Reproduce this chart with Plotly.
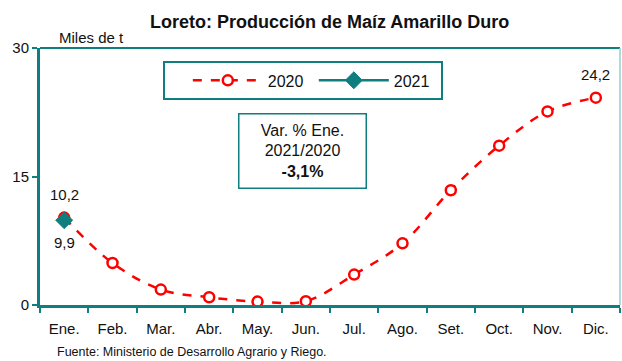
import plotly.graph_objects as go

# Monthly production, thousands of tonnes
months = ["Ene.", "Feb.", "Mar.", "Abr.", "May.", "Jun.", "Jul.", "Ago.", "Set.", "Oct.", "Nov.", "Dic."]
prod_2020 = [10.2, 4.9, 1.8, 0.9, 0.4, 0.45, 3.55, 7.2, 13.4, 18.6, 22.6, 24.2]
prod_2021 = [9.9]
y_ticks = [0, 15, 30]

TEAL = "#0e7f7e"
RED = "#ff0000"
FONT = "Liberation Sans, Arial"


def fmt(v):
    return f"{v:.1f}".replace(".", ",")


fig = go.Figure()
fig.add_trace(go.Scatter(
    x=months, y=prod_2020, name="2020", mode="lines+markers",
    line=dict(color=RED, width=2.5, dash="dash", shape="spline", smoothing=1.0),
    marker=dict(symbol="circle", size=10, color="white", line=dict(color=RED, width=2.5)),
))
fig.add_trace(go.Scatter(
    x=months[:len(prod_2021)], y=prod_2021, name="2021", mode="lines+markers",
    line=dict(color=TEAL, width=2.5),
    marker=dict(symbol="diamond", size=13, color=TEAL, line=dict(color=TEAL, width=1)),
))

# value labels
fig.add_annotation(x=months[0], y=prod_2020[0], text=fmt(prod_2020[0]), showarrow=False,
                   yshift=23, font=dict(size=15, color="#111"))
fig.add_annotation(x=months[0], y=prod_2021[0], text=fmt(prod_2021[0]), showarrow=False,
                   yshift=-22, font=dict(size=15, color="#111"))
fig.add_annotation(x=months[-1], y=prod_2020[-1], text=fmt(prod_2020[-1]), showarrow=False,
                   yshift=23, font=dict(size=15, color="#111"))

# variation box
var_pct = -3.1
fig.add_annotation(xref="paper", yref="paper", x=0.452, y=0.6, xanchor="center", yanchor="middle",
                   text=f"Var. % Ene.<br>2021/2020<br><b>{fmt(var_pct)}%</b>", showarrow=False,
                   align="center", font=dict(size=16, color="#111"),
                   bordercolor=TEAL, borderwidth=1.5, borderpad=7, bgcolor="white", width=112)

# unit label and source
fig.add_annotation(xref="paper", yref="paper", x=0.029, y=1.0, xanchor="left", yanchor="bottom",
                   text="Miles de t", showarrow=False, font=dict(size=15, color="#111"), yshift=0)
fig.add_annotation(xref="paper", yref="paper", x=0.026, y=0, xanchor="left", yanchor="top",
                   text="Fuente: Ministerio de Desarrollo Agrario y Riego.", showarrow=False,
                   font=dict(size=12.5, color="#111"), yshift=-38)

# top and right frame
fig.add_shape(type="line", xref="paper", yref="paper", x0=0, x1=1, y0=1, y1=1,
              line=dict(color=TEAL, width=2))
fig.add_shape(type="line", xref="paper", yref="paper", x0=1, x1=1, y0=0, y1=1,
              line=dict(color="#8fcfcf", width=1.5))

fig.update_layout(
    width=622, height=361,
    margin=dict(l=40, r=2, t=48, b=56),
    paper_bgcolor="white", plot_bgcolor="white",
    font=dict(family=FONT, size=15, color="#111"),
    title=dict(text="<b>Loreto: Producción de Maíz Amarillo Duro</b>", x=0.53, xanchor="center",
               y=0.94, yanchor="middle", font=dict(size=18, color="#111")),
    showlegend=True,
    legend=dict(orientation="h", x=0.4526, xanchor="center", y=0.872, yanchor="middle",
                bordercolor=TEAL, borderwidth=2, bgcolor="white",
                font=dict(size=16, color="#111"), itemwidth=70, entrywidth=41,
                tracegroupgap=0, title=dict(text="\u2002\u2009", side="left")),
)
fig.update_xaxes(
    type="category", range=[-0.5, 11.5], showline=True, linecolor=TEAL, linewidth=3,
    ticks="outside", tickson="boundaries", ticklen=5, tickwidth=2, tickcolor=TEAL,
    showgrid=False, tickfont=dict(size=15, color="#111"), zeroline=False,
    ticklabelstandoff=8,
)
fig.update_yaxes(
    range=[0, 30], tickvals=y_ticks, showline=True, linecolor=TEAL, linewidth=3,
    ticks="outside", ticklen=5, tickwidth=2, tickcolor=TEAL, showgrid=False,
    zeroline=False, tickfont=dict(size=15, color="#111"),
)

fig.write_html("out.html")
